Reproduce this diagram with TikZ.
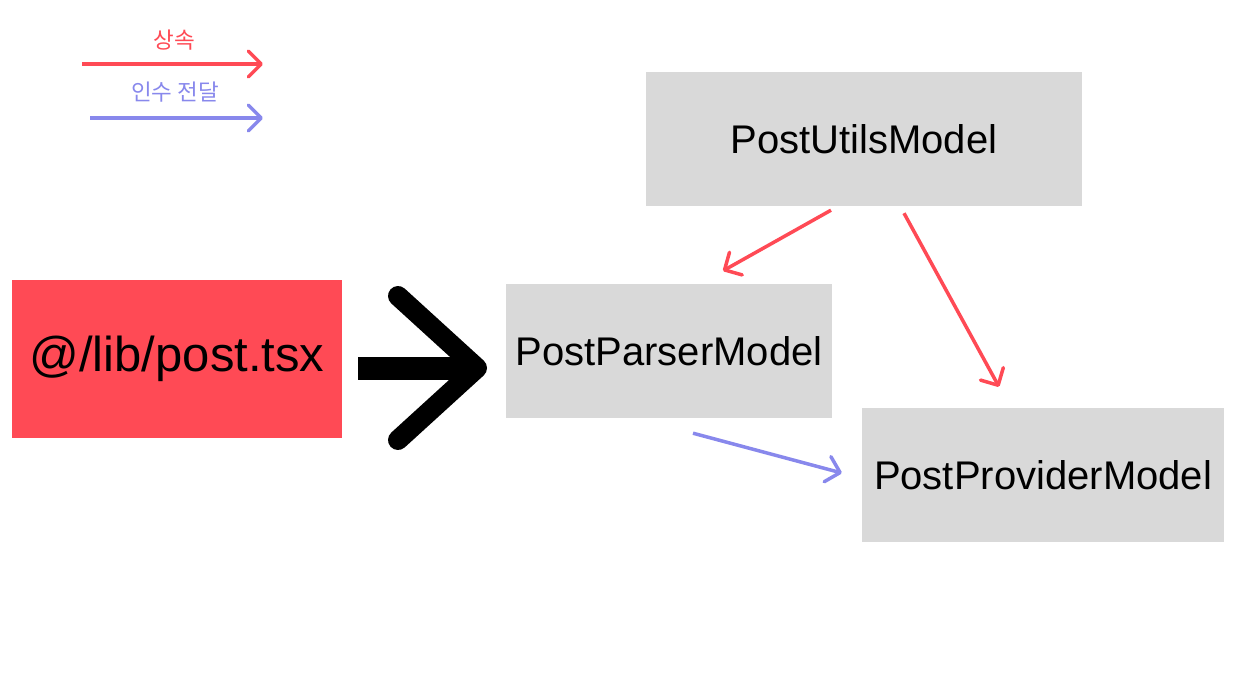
\documentclass[tikz,border=0pt]{standalone}
\usepackage{fontspec}
\setmainfont{Liberation Sans}
\newfontfamily\kofont{Noto Sans CJK KR}
\usetikzlibrary{arrows.meta}
\definecolor{redc}{RGB}{255,74,85}
\definecolor{bluec}{RGB}{136,136,236}
\definecolor{grayc}{RGB}{217,217,217}
\begin{document}
\begin{tikzpicture}[x=1pt,y=-1pt,
  box/.style={fill=grayc,inner sep=0pt,font=\fontsize{40}{48}\selectfont},
  inh/.style={draw=redc,line width=3.5pt,-{Straight Barb[length=13pt,width=26pt,round]}},
  arg/.style={draw=bluec,line width=3.5pt,-{Straight Barb[length=13pt,width=26pt,round]}},
  leg/.style={font=\kofont\fontsize{22.5}{26}\selectfont,inner sep=0pt}]
\useasboundingbox (0,0) rectangle (1248,688);
% legend
\coordinate (l1a) at (82,64);
\coordinate (l1b) at (263,64);
\coordinate (l2a) at (90,118);
\coordinate (l2b) at (263,118);
\draw[inh] (l1a) -- (l1b);
\draw[arg] (l2a) -- (l2b);
\node[leg,text=redc] (lt1) at (174,40) {상속};
\node[leg,text=bluec] (lt2) at (175,92) {인수 전달};
% boxes
\node[box,fill=redc,minimum width=330pt,minimum height=158pt,font=\fontsize{49}{56}\selectfont] (post) at (177,359) {@/lib/post.tsx};
\node[box,minimum width=436pt,minimum height=134pt] (util) at (864,139) {PostUtilsModel};
\node[box,minimum width=326pt,minimum height=134pt] (parser) at (669,351) {PostParserModel};
\node[box,minimum width=362pt,minimum height=134pt] (provider) at (1043,475) {PostProviderModel};
% connectors
\draw[inh] ([xshift=-33pt,yshift=-4pt]util.south) -- ([xshift=54pt,yshift=13pt]parser.north);
\draw[inh] ([xshift=40pt,yshift=-7pt]util.south) -- ([xshift=-44pt,yshift=21pt]provider.north);
\draw[arg] ([xshift=24pt,yshift=-15pt]parser.south) -- ([xshift=-20pt,yshift=2pt]provider.west);
% big black arrow
\coordinate (bigtip) at (477,368);
\draw[line width=23pt] ([xshift=16pt,yshift=-9pt]post.east) -- ([xshift=-8pt]bigtip);
\draw[line width=20pt,line cap=round,line join=round] ([xshift=-79pt,yshift=72pt]bigtip) -- (bigtip) -- ([xshift=-79pt,yshift=-72pt]bigtip);
\end{tikzpicture}
\end{document}
